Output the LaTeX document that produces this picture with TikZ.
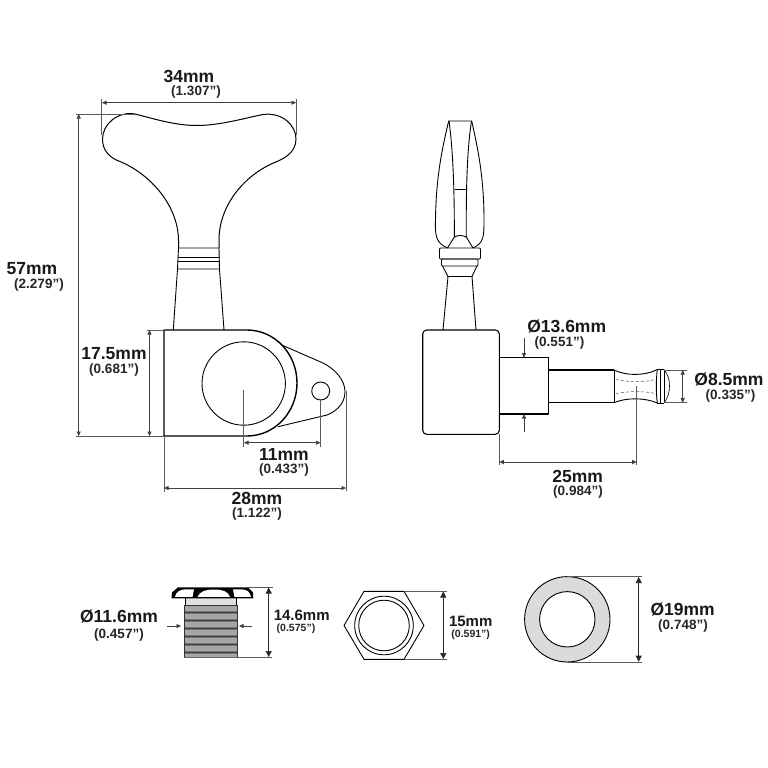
\documentclass[tikz,border=0pt]{standalone}
\usepackage{fontspec}
\setmainfont{Liberation Sans}
\usetikzlibrary{arrows.meta}
\definecolor{dimgrey}{HTML}{5A5A5A}
\tikzset{
  part/.style={draw=black,line width=0.9pt,line join=round},
  heavy/.style={draw=black,line width=1.4pt,line join=round},
  ext/.style={draw=dimgrey,line width=0.6pt},
  dimline/.style={draw=black!75,line width=0.6pt,{Triangle[length=4.5pt,width=4pt]}-{Triangle[length=4.5pt,width=4pt]}},
  bigdim/.style={draw=black!85,line width=0.7pt,{Triangle[length=6pt,width=6pt]}-{Triangle[length=6pt,width=6pt]}},
  ptr/.style={draw=black!75,line width=0.6pt,-{Triangle[length=4.5pt,width=4pt]}},
  mm/.style={font=\fontsize{17.5}{17.5}\selectfont\bfseries,inner sep=0pt,text=black!90},
  inch/.style={font=\fontsize{13.5}{14}\selectfont\bfseries,inner sep=0pt,text=black!85},
  mmsmall/.style={font=\fontsize{15}{15}\selectfont\bfseries,inner sep=0pt,text=black!90},
  inchsmall/.style={font=\fontsize{10.5}{11}\selectfont\bfseries,inner sep=0pt,text=black!85}
}
\begin{document}
\begin{tikzpicture}[x=1pt,y=-1pt]
\useasboundingbox (0,0) rectangle (768,768);
\fill[white] (0,0) rectangle (768,768);

% ---- front view: key
\draw[part,line width=1pt] (178.5,248) -- (178.5,240)
  .. controls (178,205) and (150,174) .. (120,161.5)
  .. controls (110,158) and (102.5,151) .. (102.5,139)
  .. controls (102.5,124) and (118,111) .. (135,114)
  .. controls (155,119) and (175,125.5) .. (197,125.5)
  .. controls (220,125.5) and (245,118) .. (263,114.5)
  .. controls (282,112) and (296,125) .. (296,139)
  .. controls (296,152) and (285,158) .. (277,161.5)
  .. controls (245,174) and (219,205) .. (219,240)
  -- (219,248);
\draw[part] (178.5,248) -- (219,248) -- (219.5,269) -- (177.5,269) -- cycle;
\draw[part] (178,257) -- (219.5,257) (178,261) -- (219.5,261);
\draw[part] (177.5,269) -- (173.3,330) (219.5,269) -- (224,330);

% ---- front view: body
\draw[part] (281.7,345) -- (323,363) .. controls (335,369) and (345,380) .. (345,391.7)
  .. controls (345,403) and (337,411) .. (327,415) -- (278,426.7);
\draw[heavy] (247,330) -- (164,330) -- (164,436) -- (247,436)
  .. controls (275,436) and (297,412) .. (297,383)
  .. controls (297,354) and (275,330) .. (247,330) -- cycle;
\draw[part] (243.7,383.5) circle[radius=41.7];
\draw[part] (320.7,391) circle[radius=9];

% ---- front view: dimensions
\coordinate (kl) at (102,102.7); \coordinate (kr) at (296,102.7);
\draw[ext] (101.7,99) -- (101.7,135) (296,99) -- (296,135);
\draw[dimline] (kl) -- (kr);
\coordinate (ha) at (78.7,114); \coordinate (hb) at (78.7,436);
\draw[ext] (76,114) -- (135,114) (76,436.5) -- (164,436.5);
\draw[dimline] (ha) -- (hb);
\coordinate (ba) at (149.5,330); \coordinate (bb) at (149.5,436);
\draw[ext] (147,330) -- (164,330);
\draw[dimline] (ba) -- (bb);
\draw[ext] (243.7,390) -- (243.7,447) (320.7,399) -- (320.7,447);
\coordinate (ea) at (244,442.7); \coordinate (eb) at (320.5,442.7);
\draw[dimline] (ea) -- (eb);
\draw[ext] (164,436) -- (164,492) (346,391) -- (346,491);
\coordinate (wa) at (164,488); \coordinate (wb) at (346,488);
\draw[dimline] (wa) -- (wb);

\node[mm] (l34) at (189,76) {34mm};
\node[inch] (i34) at (196,92) {(1.307”)};
\node[mm] (l57) at (32,269) {57mm};
\node[inch] (i57) at (39,285) {(2.279”)};
\node[mm] (l175) at (114,354) {17.5mm};
\node[inch] (i175) at (114,370) {(0.681”)};
\node[mm] (l11) at (284,454) {11mm};
\node[inch] (i11) at (284,470) {(0.433”)};
\node[mm] (l28) at (257,498) {28mm};
\node[inch] (i28) at (257,514) {(1.122”)};

% ---- side view: key
\draw[part] (447.5,248) .. controls (436,243) and (435,236) .. (435.5,220)
  .. controls (436,175) and (443,145) .. (448.7,121)
  -- (471.7,121)
  .. controls (477,145) and (484,175) .. (484,220)
  .. controls (484,236) and (484,243) .. (473,248);
\draw[part] (449,121) .. controls (453,150) and (454.5,190) .. (454.3,237);
\draw[part] (471.5,121) .. controls (467,150) and (466,190) .. (466.3,237);
\draw[part] (454.5,189.7) -- (466,189.7);
\draw[part] (454.3,237) .. controls (458,235) and (462,235) .. (466.3,237);
\draw[part] (454.3,237) -- (447.5,248) (466.3,237) -- (473,248);
\draw[part,rounded corners=1pt] (439.5,248) rectangle (480.5,259);
\draw[part,rounded corners=1pt] (441.5,259) rectangle (478,266);
\draw[part] (442.5,266) -- (448,276.5) -- (472,276.5) -- (477,266);
\draw[part] (448,276.5) -- (443,330) (472,276.5) -- (476,330);

% ---- side view: body and shaft
\draw[part,line width=1.1pt,rounded corners=4pt] (422.7,330) rectangle (499.3,434.3);
\draw[part,line width=1.1pt] (499.3,357.7) -- (548.3,357.7) -- (548.3,414) -- (499.3,414);
\draw[part,line width=1.1pt] (548.3,370) -- (614,370) (548.3,402.7) -- (614,402.7);
\draw[part,line width=0.6pt] (614,370) -- (614,402.7);
\draw[part] (614,370) .. controls (626,376) and (645,376) .. (657.3,369.5);
\draw[part] (614,402.7) .. controls (626,397.5) and (645,397.5) .. (657.3,403);
\draw[part] (657.3,369.5) .. controls (656,380) and (656,393) .. (657.3,403);
\draw[part,line width=0.6pt] (660.5,369.5) -- (660.5,403);
\draw[part] (657.3,369.5) -- (664,369.5) (657.3,403) -- (664,403);
\draw[part,line width=0.6pt] (664,369.5) -- (664,403);
\draw[part,line width=0.6pt] (664,369.5) .. controls (668,374) and (669.5,380) .. (669.5,386)
  .. controls (669.5,392) and (668,398) .. (664,403);
\draw[dimgrey,line width=0.5pt,densely dashed] (616,379.5) .. controls (630,382.5) and (642,382.5) .. (656,379.5);
\draw[dimgrey,line width=0.5pt,densely dashed] (616,393.5) .. controls (630,391) and (642,391) .. (656,393.5);

% ---- side view: dimensions
\coordinate (d1a) at (524,338); \coordinate (d1b) at (524,357.7);
\draw[ptr] (d1a) -- (d1b);
\coordinate (d2a) at (524,431.7); \coordinate (d2b) at (524,414);
\draw[ptr] (d2a) -- (d2b);
\draw[ext] (499.3,434) -- (499.3,465) (636.7,386) -- (636.7,465);
\coordinate (sa) at (499.3,462); \coordinate (sb) at (636.7,462);
\draw[dimline] (sa) -- (sb);
\draw[ext] (664,370) -- (687,370) (664,402.7) -- (687,402.7);
\coordinate (ta) at (682.7,370); \coordinate (tb) at (682.7,402.7);
\draw[dimline] (ta) -- (tb);

\node[mm] (l136) at (566.7,327) {Ø13.6mm};
\node[inch] (i136) at (559.5,343) {(0.551”)};
\node[mm] (l85) at (729,380) {Ø8.5mm};
\node[inch] (i85) at (730.5,396) {(0.335”)};
\node[mm] (l25) at (577.7,476) {25mm};
\node[inch] (i25) at (578,492) {(0.984”)};

% ---- bushing
\fill[black!12] (185.7,598) rectangle (236.7,605);
\draw[part,line width=0.6pt] (185.7,598) -- (185.7,605) (236.7,598) -- (236.7,605);
\fill[black!55] (184,605) rectangle (237.7,657.3);
\foreach \yy in {606,614,622,630,638,646}{
  \fill[black!35] (185,\yy) rectangle (237,\yy+4.5);
  \fill[black!75] (184,\yy+6) rectangle (237.7,\yy+7);
}
\fill[black!35] (185,654) rectangle (237,657);
\draw[black!80,line width=0.9pt] (184,605) -- (184,657.3) (237.7,605) -- (237.7,657.3) (184,605) -- (237.7,605);
\draw[black!60,line width=0.9pt] (184,657.3) -- (237.7,657.3);
\fill[black] (171.5,598.3) -- (172,592.5) -- (178,587.3) -- (248,587.3) -- (253,592.5) -- (253.3,598.3) -- cycle;
\fill[white] (175,596.8) .. controls (176,592) and (180,589.3) .. (186,589.3) -- (194,589.3) -- (192.5,596.8) -- cycle;
\fill[white] (197.5,596.8) .. controls (200,591.5) and (205,589.5) .. (214,589.5)
  .. controls (223,589.5) and (228,591.5) .. (230,596.8) -- cycle;
\fill[white] (234.5,596.8) -- (233,589.3) -- (241,589.3) .. controls (247,589.3) and (250,592) .. (251,596.8) -- cycle;

\coordinate (ba1) at (167.3,626); \coordinate (ba2) at (181,626);
\draw[ptr] (ba1) -- (ba2);
\coordinate (ba3) at (251.7,626); \coordinate (ba4) at (239,626);
\draw[ptr] (ba3) -- (ba4);
\draw[ext] (248,587.3) -- (273,587.3) (237,657.3) -- (272,657.3);
\coordinate (bc) at (268.7,587.5); \coordinate (bd) at (268.7,657);
\draw[bigdim] (bc) -- (bd);
\node[mm] (l116) at (119,617) {Ø11.6mm};
\node[inch] (i116) at (119,635) {(0.457”)};
\node[mmsmall] (l146) at (301.7,615.5) {14.6mm};
\node[inchsmall] (i146) at (296,629) {(0.575”)};

% ---- hex nut
\draw[part] (344,625.5) -- (364,591.3) -- (404,591.3) -- (424,625.5) -- (404,659.3) -- (364,659.3) -- cycle;
\draw[part] (384,625.5) circle[radius=29.3];
\draw[part] (384,625.5) circle[radius=25.3];
\draw[ext] (404,591.3) -- (447,591.3) (404,659.3) -- (447,659.3);
\coordinate (hx1) at (443.3,591.5); \coordinate (hx2) at (443.3,659);
\draw[bigdim] (hx1) -- (hx2);
\node[mmsmall] (l15) at (470.7,621) {15mm};
\node[inchsmall] (i15) at (470.7,635) {(0.591”)};

% ---- washer
\draw[part,fill=black!14,even odd rule] (567.3,619.3) circle[radius=42.7] (567.3,619.3) circle[radius=27.7];
\draw[ext] (567,576.7) -- (642,576.7) (567,662) -- (642,662);
\coordinate (w1) at (638.7,577); \coordinate (w2) at (638.7,661.7);
\draw[bigdim] (w1) -- (w2);
\node[mm] (l19) at (682.7,610) {Ø19mm};
\node[inch] (i19) at (683,626) {(0.748”)};
\end{tikzpicture}
\end{document}
